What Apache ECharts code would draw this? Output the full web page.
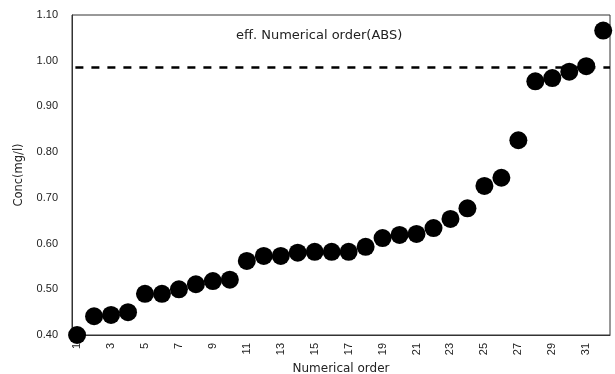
<!DOCTYPE html>
<html><head><meta charset="utf-8">
<script src="https://cdn.jsdelivr.net/npm/echarts@6/dist/echarts.min.js"></script>
<style>html,body{margin:0;padding:0;background:#fff}#c{width:615px;height:374px}</style>
</head><body><div id="c"></div>
<script>
const orderNums = [1,2,3,4,5,6,7,8,9,10,11,12,13,14,15,16,17,18,19,20,21,22,23,24,25,26,27,28,29,30,31,32];
const concValues = [0.400,0.441,0.444,0.450,0.490,0.490,0.500,0.511,0.518,0.521,0.562,0.573,0.573,0.580,0.582,0.582,0.582,0.593,0.612,0.619,0.621,0.634,0.654,0.677,0.726,0.744,0.826,0.955,0.962,0.976,0.988,1.066];
const xTickLabels = [1,3,5,7,9,11,13,15,17,19,21,23,25,27,29,31];
const referenceLevel = 0.985;
const titleText = 'eff. Numerical order(ABS)';

const chart = echarts.init(document.getElementById('c'));
const font = 'Liberation Sans, Arial, sans-serif';
const wfont = 'DejaVu Sans, sans-serif';
chart.setOption({
  animation: false,
  title: {text: titleText, left: 231, top: 24, textStyle: {fontSize: 13, fontWeight: 'normal', color: '#222', fontFamily: wfont}},
  grid: {left: 72, right: 5, top: 15, bottom: 39, outerBoundsMode: 'none', containLabel: false, show: true, borderColor: '#333', borderWidth: 1},
  xAxis: {
    type: 'value', min: 0.7, max: 32.4,
    name: 'Numerical order', nameLocation: 'middle', nameGap: 24,
    nameTextStyle: {fontSize: 12, color: '#222', fontFamily: wfont},
    axisLine: {show: true, lineStyle: {color: '#333', width: 1}},
    axisTick: {show: false},
    splitLine: {show: false},
    axisLabel: {customValues: xTickLabels, rotate: 90, fontSize: 11, color: '#222', fontFamily: font, margin: 8}
  },
  yAxis: {
    type: 'value', min: 0.4, max: 1.1, interval: 0.1,
    name: 'Conc(mg/l)', nameLocation: 'middle', nameGap: 47, nameRotate: 90,
    nameTextStyle: {fontSize: 11.5, color: '#222', fontFamily: wfont},
    axisLine: {show: true, lineStyle: {color: '#333', width: 1}},
    axisTick: {show: false},
    splitLine: {show: false},
    axisLabel: {fontSize: 11, color: '#222', fontFamily: font, margin: 14, formatter: v => v.toFixed(2)}
  },
  series: [{
    type: 'scatter', symbol: 'circle', symbolSize: 18,
    itemStyle: {color: '#000', opacity: 1},
    data: orderNums.map((n, i) => [n, concValues[i]]),
    markLine: {
      silent: true, symbol: 'none', label: {show: false},
      lineStyle: {color: '#000', type: [8, 8], width: 2.5, opacity: 1},
      data: [[{coord: [0.9, referenceLevel]}, {coord: [32.4, referenceLevel]}]]
    }
  }]
});
</script></body></html>
